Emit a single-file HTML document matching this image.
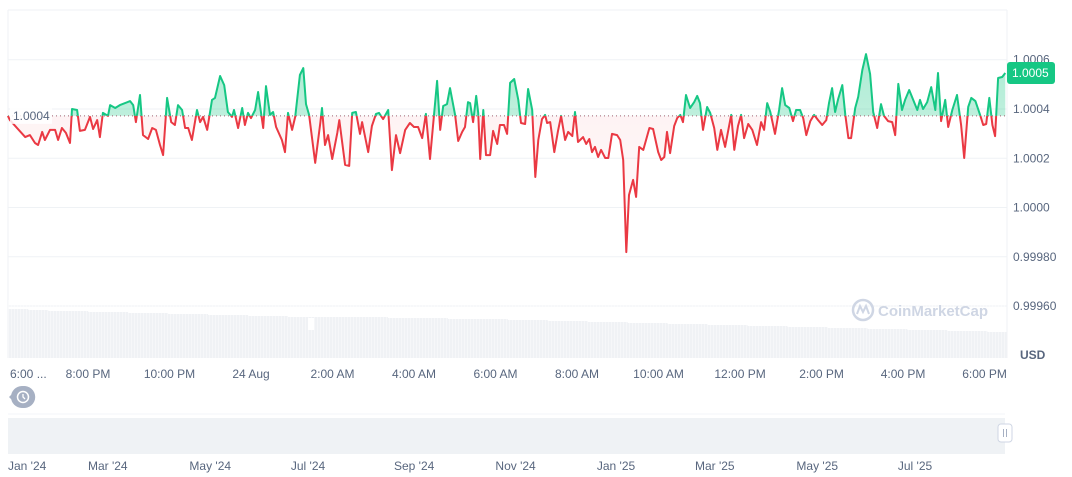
<!DOCTYPE html>
<html><head><meta charset="utf-8"><style>
html,body{margin:0;padding:0;background:#fff;width:1072px;height:477px;overflow:hidden;font-family:"Liberation Sans",sans-serif}
svg text{font-family:"Liberation Sans",sans-serif}
</style></head><body>
<svg id="chart" width="1072" height="477" xmlns="http://www.w3.org/2000/svg">
<defs>
<linearGradient id="gUp" x1="0" y1="0" x2="0" y2="1"><stop offset="0" stop-color="#16c784" stop-opacity="0.35"/><stop offset="1" stop-color="#16c784" stop-opacity="0.12"/></linearGradient>
<linearGradient id="gDn" x1="0" y1="0" x2="0" y2="1"><stop offset="0" stop-color="#ea3943" stop-opacity="0.08"/><stop offset="1" stop-color="#ea3943" stop-opacity="0.02"/></linearGradient>
</defs>
<g id="grid"></g>
<g id="vol"></g>
<g id="plot"></g>
<g id="axes"></g>
</svg>
<script>
const times=[4,10,55,69,84,93,105,113,128,143,152,163,175,187,193,208,216,231,246,255,267,275,284,299,305,320,334,364,373,381,393,402,417,429,440,452,461,473,485,496,505,517,526,535,546,561,570,579,591,605,614,629,641,652,664,670,682,694,702,711,720,732,741,756,764,776,785,794,811,820,829,841,850,864,874,882,891,909,924,929,938,947,959,974,980,997,1009,1018,1029,1041,1047,1065,1076,1088,1097,1109,1124,1135,1147,1159,1174,1188,1200,1212,1224,1235,1247,1268,1277,1286,1297,1306,1321,1330,1342,1350,1359,1365,1374,1383,1389,1395,1404,1412,1424,1433,1445,1453,1465,1474,1483,1495,1507,1515,1527,1536,1548,1557,1566,1577,1586,1592,1601,1613,1624,1633,1645,1654,1666,1674,1683,1689,1698,1707,1716,1724,1733,1742,1751,1763,1772,1783,1798,1807,1816,1825,1833,1845,1854,1863,1875,1893,1904,1919,1928,1937,1945,1954,1966,1975,1984,1992,2001,2013,2025,2034,2042,2051,2063,2072,2084,2093,2104,2116,2134,2143,2154,2163,2172,2184,2196,2210,2222,2231,2240,2249,2263,2275,2284,2293,2305,2316,2325,2337,2346,2355,2367,2378,2390,2402,2414,2422,2431,2440,2449,2461,2470,2479,2487,2499,2508,2520,2531,2543,2552,2564,2575,2584,2596,2608,2617,2626,2637,2646,2658,2670,2682,2690,2699,2711,2723,2735,2743,2752,2764,2773,2785,2799,2811,2820,2832,2841,2853,2867,2876,2885,2894,2903,2911,2920,2932,2941];
const prices=[1.000372,1.000355,1.000286,1.000294,1.000262,1.000254,1.000307,1.000274,1.000315,1.000315,1.000274,1.000323,1.000303,1.000262,1.000400,1.000396,1.000311,1.000315,1.000368,1.000319,1.000355,1.000286,1.000384,1.000372,1.000416,1.000404,1.000416,1.000432,1.000416,1.000347,1.000457,1.000294,1.000278,1.000323,1.000315,1.000254,1.000213,1.000445,1.000347,1.000335,1.000416,1.000396,1.000323,1.000323,1.000274,1.000396,1.000347,1.000368,1.000315,1.000437,1.000445,1.000534,1.000497,1.000388,1.000368,1.000396,1.000323,1.000404,1.000335,1.000384,1.000363,1.000396,1.000469,1.000323,1.000493,1.000376,1.000388,1.000327,1.000274,1.000225,1.000384,1.000315,1.000368,1.000538,1.000566,1.000420,1.000376,1.000181,1.000343,1.000404,1.000254,1.000294,1.000197,1.000303,1.000355,1.000173,1.000169,1.000384,1.000388,1.000299,1.000347,1.000225,1.000331,1.000380,1.000384,1.000359,1.000396,1.000152,1.000294,1.000221,1.000315,1.000343,1.000327,1.000327,1.000282,1.000380,1.000197,1.000514,1.000315,1.000412,1.000420,1.000485,1.000376,1.000270,1.000307,1.000327,1.000428,1.000424,1.000347,1.000453,1.000384,1.000197,1.000396,1.000213,1.000213,1.000311,1.000258,1.000335,1.000335,1.000299,1.000506,1.000522,1.000437,1.000343,1.000339,1.000481,1.000396,1.000124,1.000274,1.000359,1.000376,1.000343,1.000347,1.000225,1.000311,1.000372,1.000274,1.000307,1.000290,1.000388,1.000266,1.000274,1.000286,1.000258,1.000278,1.000225,1.000246,1.000205,1.000234,1.000201,1.000201,1.000299,1.000294,1.000274,1.000193,0.999819,1.000051,1.000112,1.000043,1.000246,1.000234,1.000323,1.000319,1.000225,1.000193,1.000205,1.000307,1.000221,1.000331,1.000363,1.000376,1.000347,1.000457,1.000404,1.000428,1.000453,1.000424,1.000315,1.000408,1.000384,1.000323,1.000234,1.000315,1.000246,1.000376,1.000234,1.000331,1.000376,1.000282,1.000339,1.000315,1.000254,1.000347,1.000315,1.000424,1.000388,1.000299,1.000396,1.000485,1.000416,1.000404,1.000351,1.000396,1.000396,1.000363,1.000294,1.000351,1.000376,1.000355,1.000335,1.000355,1.000424,1.000485,1.000388,1.000441,1.000497,1.000376,1.000282,1.000282,1.000404,1.000449,1.000558,1.000623,1.000542,1.000388,1.000323,1.000420,1.000372,1.000351,1.000347,1.000294,1.000502,1.000396,1.000437,1.000477,1.000437,1.000396,1.000437,1.000400,1.000428,1.000489,1.000396,1.000546,1.000351,1.000437,1.000327,1.000396,1.000457,1.000335,1.000201,1.000408,1.000445,1.000432,1.000376,1.000335,1.000339,1.000445,1.000335,1.000290,1.000526,1.000530,1.000546];
const volumes=[49,48,47,47,46,46,45,45,44,44,43,43,42,42,41,41,41,41,41,40,40,40,39,39,39,38,38,37,37,36,36,35,35,34,34,33,33,32,32,31,31,30,30,29,29,28,28,27,27,26];
const baseline=1.000372;
const yTicks=[1.0006,1.0004,1.0002,1.0000,0.9998,0.9996];
const yTickLabels=["1.0006","1.0004","1.0002","1.0000","0.99980","0.99960"];
const xTicks=[0,240,480,720,960,1200,1440,1680,1920,2160,2400,2640,2880];
const xTickLabels=["6:00 ...","8:00 PM","10:00 PM","24 Aug","2:00 AM","4:00 AM","6:00 AM","8:00 AM","10:00 AM","12:00 PM","2:00 PM","4:00 PM","6:00 PM"];
const navLabels=["Jan '24","Mar '24","May '24","Jul '24","Sep '24","Nov '24","Jan '25","Mar '25","May '25","Jul '25"];
const navDays=[0,60,121,182,244,305,366,425,486,547];

const NS="http://www.w3.org/2000/svg";
const L=8,R=1007;
function xS(t){return 6.5+t*0.3396;}
function yS(v){return 109-(v-1.0004)/0.00000406;}
function navX(d){return Math.max(8,-11.8+d*1.663);}
function mk(tag,attrs,parent){const e=document.createElementNS(NS,tag);for(const k in attrs)e.setAttribute(k,attrs[k]);parent.appendChild(e);return e;}
const grid=document.getElementById('grid'),vol=document.getElementById('vol'),plot=document.getElementById('plot'),axes=document.getElementById('axes');

mk('line',{x1:L,y1:10,x2:R,y2:10,stroke:'#eff2f5'},grid);
mk('line',{x1:L,y1:10,x2:L,y2:358,stroke:'#eff2f5'},grid);
mk('line',{x1:R,y1:10,x2:R,y2:358,stroke:'#eff2f5'},grid);
yTicks.forEach((v,i)=>{
  const y=yS(v);
  const gl=mk('line',{x1:L,y1:y,x2:R,y2:y,stroke:'#eff2f5'},grid);
  
  
  const t=mk('text',{x:1013,y:y+4,'font-size':12,fill:'#58667e'},axes);
  t.textContent=yTickLabels[i];
  
  
});
const segW=(R-L)/volumes.length;
volumes.forEach((v,i)=>{
  const r=mk('rect',{x:L+i*segW,y:358-v,width:segW+0.3,height:v,fill:'#f0f2f5'},vol);
  
  
});
mk('rect',{x:308,y:318,width:6,height:12,fill:'#fff'},vol);
for(let x=L;x<R;x+=3){mk('line',{x1:x+0.5,y1:300,x2:x+0.5,y2:358,stroke:'#fff','stroke-width':0.7,'stroke-opacity':0.6},vol);}

const by=yS(baseline);
let d='';times.forEach((t,i)=>{d+=(i?'L':'M')+xS(t).toFixed(1)+','+yS(prices[i]).toFixed(1);});
const area=d+'L'+xS(times[times.length-1]).toFixed(1)+','+by+'L'+xS(times[0]).toFixed(1)+','+by+'Z';
const cu=mk('clipPath',{id:'cUp'},plot);mk('rect',{x:0,y:0,width:1072,height:by},cu);
const cd=mk('clipPath',{id:'cDn'},plot);mk('rect',{x:0,y:by,width:1072,height:400},cd);
const au=mk('path',{d:area,fill:'url(#gUp)','clip-path':'url(#cUp)'},plot);

const ad=mk('path',{d:area,fill:'url(#gDn)','clip-path':'url(#cDn)'},plot);

mk('line',{x1:L,y1:by,x2:R,y2:by,stroke:'#a06070','stroke-width':1,'stroke-dasharray':'1,3'},plot);
const lu=mk('path',{d:d,fill:'none',stroke:'#16c784','stroke-width':2,'stroke-linejoin':'round','clip-path':'url(#cUp)'},plot);

const ld=mk('path',{d:d,fill:'none',stroke:'#ea3943','stroke-width':2,'stroke-linejoin':'round','clip-path':'url(#cDn)'},plot);


mk('rect',{x:10,y:by-8,width:42,height:16,fill:'#fff','fill-opacity':0.85},axes);
const blt=mk('text',{x:13,y:by+4,'font-size':12,fill:'#58667e'},axes);blt.textContent='1.0004';

const lastY=yS(prices[prices.length-1]);
const bg=mk('rect',{x:1007,y:lastY-11,width:48,height:22,rx:3,fill:'#16c784'},axes);

const bt=mk('text',{x:1012,y:lastY+4,'font-size':12,fill:'#fff'},axes);bt.textContent='1.0005';

xTicks.forEach((t,i)=>{
  const x=xS(t);
  const tx=mk('text',{x:i===0?10:x,y:378,'font-size':12,fill:'#58667e','text-anchor':i===0?'start':'middle'},axes);
  tx.textContent=xTickLabels[i];
  
  
});
const usd=mk('text',{x:1020,y:359,'font-size':12,'font-weight':'bold',fill:'#58667e'},axes);usd.textContent='USD';


const wm=mk('g',{},axes);
mk('circle',{cx:863,cy:310,r:10,fill:'none',stroke:'#cfd6e4','stroke-width':2.5},wm);
mk('path',{d:'M857,314 L860,306 L863,312 L866,306 L869,314',fill:'none',stroke:'#cfd6e4','stroke-width':2},wm);
const wt=mk('text',{x:878,y:316,'font-size':15,'font-weight':'bold',fill:'#cfd6e4'},wm);wt.textContent='CoinMarketCap';

const hi=mk('g',{},axes);
mk('path',{d:'M9,397 L15,391 A11,11 0 1 1 15,403 Z',fill:'#a6b0c3'},hi);
mk('circle',{cx:22,cy:397,r:11,fill:'#a6b0c3'},hi);
mk('circle',{cx:23,cy:397,r:5.5,fill:'none',stroke:'#fff','stroke-width':1.5},hi);
mk('path',{d:'M23,394 L23,397 L25,399',fill:'none',stroke:'#fff','stroke-width':1.3},hi);

const nv=mk('rect',{x:8,y:418,width:997,height:36,fill:'#eff2f5'},axes);

mk('line',{x1:8,y1:414,x2:1005,y2:414,stroke:'#f3f5f8'},axes);
const hd=mk('rect',{x:998,y:424,width:14,height:18,rx:3,fill:'#fff',stroke:'#cfd6e4'},axes);

mk('line',{x1:1003.5,y1:429,x2:1003.5,y2:437,stroke:'#a6b0c3'},axes);
mk('line',{x1:1006.5,y1:429,x2:1006.5,y2:437,stroke:'#a6b0c3'},axes);
navDays.forEach((dd,i)=>{
  const t=mk('text',{x:navX(dd),y:470,'font-size':12,fill:'#58667e'},axes);
  t.textContent=navLabels[i];
  
  
});
</script>
</body></html>
